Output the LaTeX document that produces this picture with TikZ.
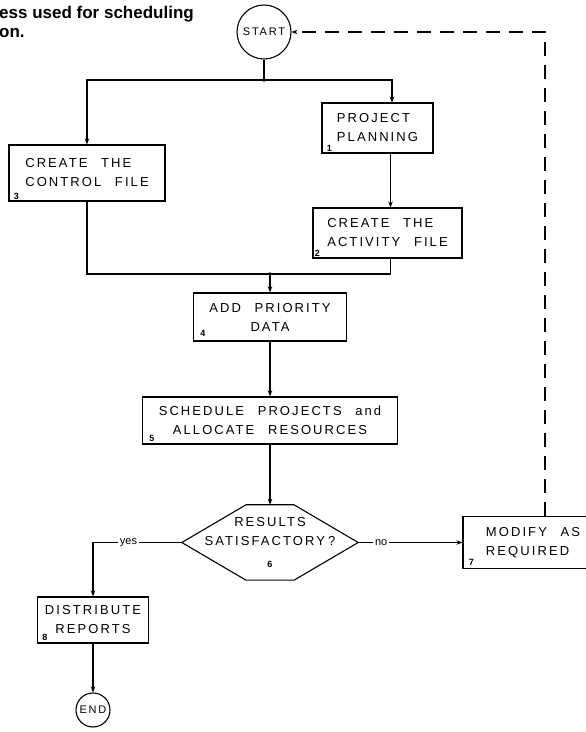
\documentclass[tikz,border=0pt]{standalone}
\usepackage{fontspec}
\setmainfont{Liberation Sans}
\newfontfamily\boxfont[LetterSpace=16,WordSpace=2.4]{Liberation Sans}
\usepackage{tikz}
\usetikzlibrary{arrows.meta,positioning,calc}
\newcommand{\numfont}{\bfseries\fontsize{9}{9}\selectfont}

\begin{document}
\begin{tikzpicture}[
    x=1pt, y=1pt,
    >={Stealth[length=6pt,width=4.5pt]},
    stepbox/.style={draw, line width=1.1pt, font=\boxfont\fontsize{13}{19}\selectfont, inner sep=0pt, align=center},
    terminal/.style={draw, circle, line width=1.1pt, inner sep=0pt, font=\boxfont\fontsize{11}{12}\selectfont},
    decision/.style={font=\boxfont\fontsize{13}{19}\selectfont, minimum width=176pt, minimum height=75pt, inner sep=0pt, align=center},
    arrow/.style={->, line width=1.1pt},
    line/.style={line width=1.1pt},
    dashed_arrow/.style={->, line width=1.1pt, dash pattern=on 14pt off 9pt},
    num/.style={font=\numfont, inner sep=0pt},
    branch/.style={font=\fontsize{11}{11}\selectfont, fill=white, inner sep=2pt}
]
    \useasboundingbox (0,0) rectangle (586,732);

    % Caption (cut at the page edge)
    \node[font=\bfseries\fontsize{17}{18.5}\selectfont, align=left, anchor=north west, inner sep=0pt] (caption) at (-1,726) {ess used for scheduling\\on.};

    % Flow boxes
    \node[terminal, minimum size=54pt] (start) at (264,700) {START};
    \node[stepbox, minimum width=156pt, minimum height=56pt, align=left] (ctl) at (87,559) {CREATE THE\\CONTROL FILE};
    \node[stepbox, minimum width=111pt, minimum height=50pt, align=left] (plan) at (377.5,604) {PROJECT\\PLANNING};
    \node[stepbox, minimum width=149pt, minimum height=50pt, align=left] (act) at (387.5,499) {CREATE THE\\ACTIVITY FILE};
    \node[stepbox, minimum width=153pt, minimum height=48pt] (prio) at (270,415) {ADD PRIORITY\\DATA};
    \node[stepbox, minimum width=255pt, minimum height=47pt] (sched) at (270,311.5) {SCHEDULE PROJECTS and\\ALLOCATE RESOURCES};
    \node[decision] (check) at (270,189.5) {RESULTS\\SATISFACTORY\hspace{3pt}?\\[3pt]{\numfont 6}};
    \node[stepbox, minimum width=140pt, minimum height=52pt, align=left] (modify) at (533,189.5) {MODIFY AS\\REQUIRED};
    \node[stepbox, minimum width=111pt, minimum height=46pt] (dist) at (93,112) {DISTRIBUTE\\REPORTS};
    \node[terminal, minimum size=34pt] (end) at (93,22) {END};

    % Hexagon round the decision
    \draw[line] (check.west) -- ($(check.north)+(-24,0)$) -- ($(check.north)+(24,0)$) -- (check.east) -- ($(check.south)+(24,0)$) -- ($(check.south)+(-24,0)$) -- cycle;

    % Box numbers
    \node[num] (n1) at ($(plan.south west)+(8,5)$) {1};
    \node[num] (n2) at ($(act.south west)+(5,5)$) {2};
    \node[num] (n3) at ($(ctl.south west)+(8,5)$) {3};
    \node[num] (n4) at ($(prio.south west)+(10,8)$) {4};
    \node[num] (n5) at ($(sched.south west)+(10,6)$) {5};
    \node[num] (n7) at ($(modify.south west)+(9,7)$) {7};
    \node[num] (n8) at ($(dist.south west)+(8,6)$) {8};

    % Split and merge points
    \coordinate (split) at (264,652);
    \coordinate (merge) at (270,458);
    \fill (split) circle (1.8pt);
    \fill (merge) circle (1.8pt);

    % Connectors
    \draw[line] (start) -- (split);
    \draw[arrow] (split) -| (ctl.north);
    \draw[arrow] (split) -| ($(plan.north)+(14.5,0)$);
    \draw[arrow] ($(plan.south)+(13,0)$) -- ($(act.north)+(3,0)$);
    \draw[line] (ctl.south) |- (merge) -| ($(act.south)+(3,0)$);
    \draw[arrow] (merge) -- (prio.north);
    \draw[arrow] (prio) -- (sched);
    \draw[arrow] (sched) -- (check.north);
    \draw[arrow] (check.west) -| node[branch, pos=0.3] (yeslbl) {yes} (dist.north);
    \draw[arrow] (check.east) -- node[branch, pos=0.22] (nolbl) {no} (modify.west);
    \draw[arrow] (dist) -- (end);
    \draw[dashed_arrow] ($(modify.north)+(12,0)$) |- (start.east);

\end{tikzpicture}
\end{document}
